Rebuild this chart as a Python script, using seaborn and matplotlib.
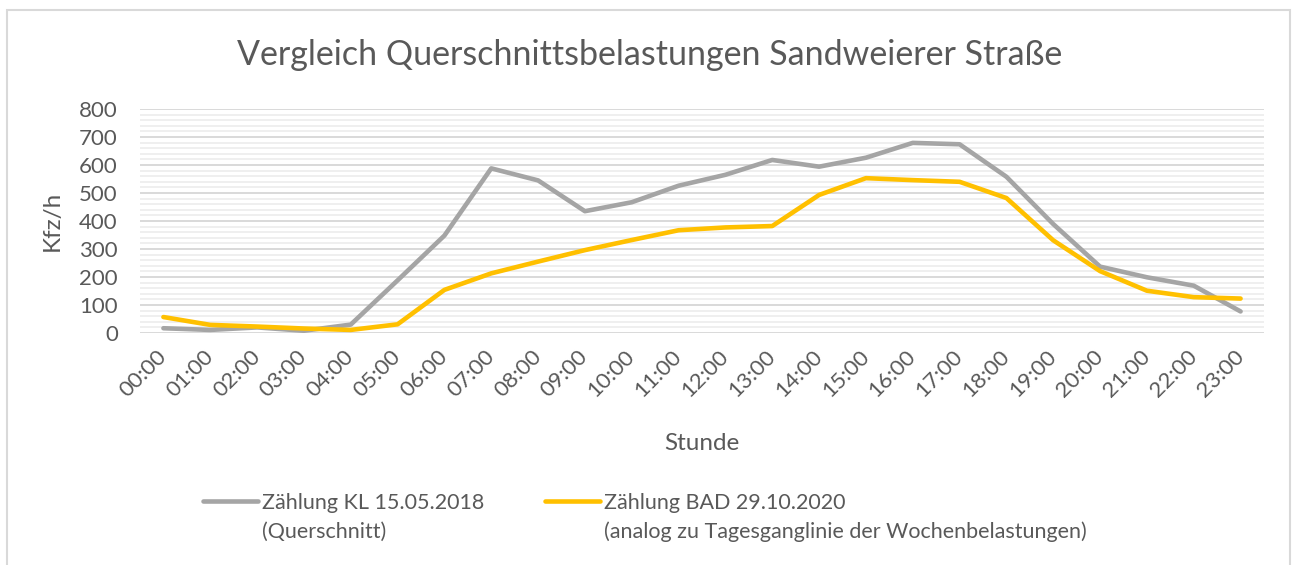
import pandas as pd
import matplotlib
matplotlib.use("Agg")
import matplotlib.pyplot as plt
import seaborn as sns
from matplotlib.ticker import MultipleLocator
from matplotlib.patches import Rectangle

# data
hours = ["00:00", "01:00", "02:00", "03:00", "04:00", "05:00", "06:00", "07:00",
         "08:00", "09:00", "10:00", "11:00", "12:00", "13:00", "14:00", "15:00",
         "16:00", "17:00", "18:00", "19:00", "20:00", "21:00", "22:00", "23:00"]
kl_2018 = [17, 11, 20, 8, 30, 188, 348, 588, 545, 435, 467, 526,
           565, 618, 594, 626, 679, 674, 558, 389, 237, 199, 169, 77]
bad_2020 = [57, 29, 23, 16, 11, 31, 154, 213, 255, 296, 332, 367,
            377, 382, 493, 553, 546, 540, 482, 331, 221, 151, 128, 123]

series_names = ["Zählung KL 15.05.2018", "Zählung BAD 29.10.2020"]
series_notes = ["(Querschnitt)", "(analog zu Tagesganglinie der Wochenbelastungen)"]
colors = ["#a5a5a5", "#ffc000"]
title = "Vergleich Querschnittsbelastungen Sandweierer Straße"

df = pd.DataFrame({
    "Stunde": hours * 2,
    "Kfz/h": kl_2018 + bad_2020,
    "Serie": [series_names[0]] * len(hours) + [series_names[1]] * len(hours),
})

sns.set_theme(style="white")
plt.rcParams["font.family"] = ["Lato", "DejaVu Sans"]
txt = "#595959"

W, H = 1295, 565
fig = plt.figure(figsize=(W / 100, H / 100), dpi=100)
ax = fig.add_axes([140 / W, 1 - 333 / H, 1124 / W, 224 / H])

sns.lineplot(data=df, x="Stunde", y="Kfz/h", hue="Serie", palette=colors,
             linewidth=3.3, sort=False, legend=False, ax=ax)
for ln in ax.lines:
    ln.set_solid_capstyle("round")
    ln.set_solid_joinstyle("round")

ax.set_xlim(-0.5, len(hours) - 0.5)
ax.set_ylim(0, 800)
ax.yaxis.set_major_locator(MultipleLocator(100))
ax.yaxis.set_minor_locator(MultipleLocator(20))
ax.grid(which="major", axis="y", color="#d9d9d9", linewidth=1.4, zorder=0)
ax.grid(which="minor", axis="y", color="#efefef", linewidth=1.4, zorder=0)
ax.set_axisbelow(True)
sns.despine(ax=ax, left=True, bottom=True)

ax.tick_params(axis="both", length=0, labelsize=16, labelcolor=txt)
ax.tick_params(axis="y", pad=16)
ax.tick_params(axis="x", pad=15)
plt.setp(ax.get_xticklabels(), rotation=45, ha="right", va="center",
         rotation_mode="anchor")

ax.set_ylabel("Kfz/h", fontsize=17.5, color=txt)
ax.set_xlabel("Stunde", fontsize=17.5, color=txt)
ax.yaxis.set_label_coords(-0.0685, 0.5)
ax.xaxis.set_label_coords(0.5, -0.446)

fig.text(649.5 / W, 1 - 55 / H, title, ha="center", va="center",
         fontsize=24.5, color=txt)

# legend: one entry each, second line of the label as plain text
legend_x = [203, 545]
fs = 15.5
for ln, name, note, x0 in zip(ax.lines[:2], series_names, series_notes, legend_x):
    leg = fig.legend(handles=[ln], labels=[name], loc="center left",
                     bbox_to_anchor=(x0 / W, 1 - 503 / H), frameon=False,
                     fontsize=fs, handlelength=55 / 1.389 / fs,
                     handletextpad=4 / 1.389 / fs, borderpad=0,
                     borderaxespad=0)
    for t in leg.get_texts():
        t.set_color(txt)
    fig.text((x0 + 59) / W, 1 - 532 / H, note, ha="left", va="center",
             fontsize=fs, color=txt)

fig.add_artist(Rectangle((7 / W, -0.05), (1290 - 7) / W, 1.05 - 10 / H,
                         transform=fig.transFigure, facecolor="none",
                         edgecolor="#d9d9d9", linewidth=1.5))

fig.savefig("out.png", dpi=100)
